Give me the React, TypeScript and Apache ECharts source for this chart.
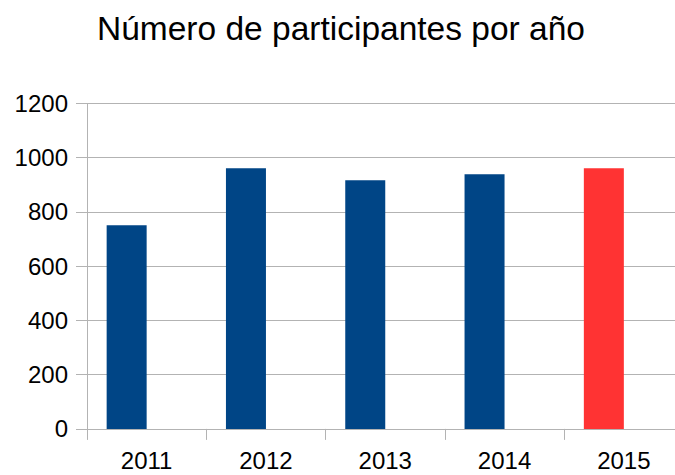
import React, { useEffect, useRef } from "react";
import * as echarts from "echarts";

const categories = ["2011", "2012", "2013", "2014", "2015"];
const participants = [751, 961, 917, 939, 961];
const highlightIndex = 4;
const emptySeries: (number | null)[] = [null, null, null, null, null];
const titleText = "Número de participantes por año";

const BLUE = "#004586";
const RED = "#ff3333";
const GRID = "#b3b3b3";

export default function App() {
  const ref = useRef<HTMLDivElement>(null);
  useEffect(() => {
    document.body.style.margin = "0";
    const chart = echarts.init(ref.current!, null, { renderer: "svg" });
    chart.setOption({
      animation: false,
      textStyle: { fontFamily: "Liberation Sans" },
      title: {
        text: titleText,
        left: 92,
        top: 6,
        textStyle: { fontSize: 33.5, fontWeight: "normal", color: "#000", fontFamily: "Liberation Sans" },
      },
      grid: {
        left: 87,
        top: 103.5,
        width: 596.5,
        height: 325.4,
        containLabel: false,
        outerBoundsMode: "none",
      },
      xAxis: {
        type: "category",
        data: categories,
        axisLine: { lineStyle: { color: GRID, width: 1 } },
        axisTick: { show: true, length: 11, lineStyle: { color: GRID } },
        axisLabel: { fontSize: 24, color: "#000", margin: 20, fontFamily: "Liberation Sans" },
      },
      yAxis: {
        type: "value",
        min: 0,
        max: 1200,
        interval: 200,
        axisLine: { show: true, lineStyle: { color: GRID, width: 1 } },
        axisTick: { show: true, length: 11, lineStyle: { color: GRID } },
        splitLine: { lineStyle: { color: GRID, width: 1 } },
        axisLabel: {
          fontSize: 24,
          color: "#000",
          margin: 19,
          fontFamily: "Liberation Sans",
          formatter: (v: number) => String(v),
        },
      },
      series: [
        {
          type: "bar",
          data: participants.map((v, i) =>
            i === highlightIndex ? { value: v, itemStyle: { color: RED } } : v
          ),
          itemStyle: { color: BLUE },
          barWidth: 40,
          barGap: "0%",
        },
        {
          type: "bar",
          data: emptySeries,
          barWidth: 40,
          barGap: "0%",
        },
      ],
    });
    return () => chart.dispose();
  }, []);
  return <div ref={ref} style={{ width: 675, height: 475 }} />;
}
